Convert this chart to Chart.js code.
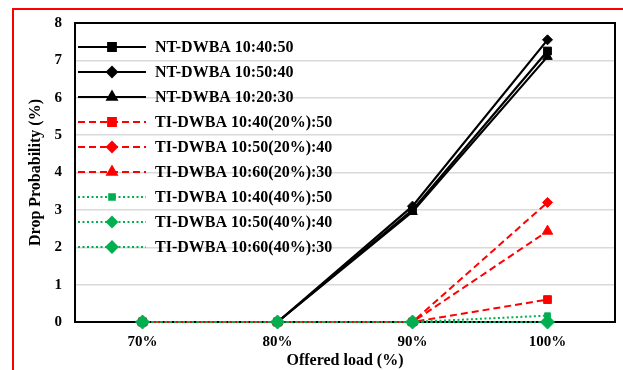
<!DOCTYPE html>
<html>
<head>
<meta charset="utf-8">
<script src="https://cdn.jsdelivr.net/npm/chart.js@4/dist/chart.umd.min.js"></script>
<style>
  html, body { margin: 0; padding: 0; background: #fff; }
  #wrap { position: relative; width: 623px; height: 370px; overflow: hidden; }
  #frame { position: absolute; left: 12px; top: 8px; width: 700px; height: 400px;
           border-top: 2px solid #f00; border-left: 2px solid #f00; }
  canvas { position: absolute; left: 0; top: 0; }
</style>
</head>
<body>
<div id="wrap">
  <div id="frame"></div>
  <canvas id="dropChart" width="623" height="370"></canvas>
</div>
<script>
// categories and series (drop probability, %)
const loads = ['70%', '80%', '90%', '100%'];
const yTicks = [0, 1, 2, 3, 4, 5, 6, 7, 8];

const nt405050 = [0, 0, 3.0, 7.25];
const nt504040 = [0, 0, 3.1, 7.55];
const nt203030 = [0, 0, 2.95, 7.1];
const ti20_4050 = [0, 0, 0, 0.6];
const ti20_5040 = [0, 0, 0, 3.2];
const ti20_6030 = [0, 0, 0, 2.43];
const ti40_4050 = [0, 0, 0, 0.17];
const ti40_5040 = [0, 0, 0, 0];
const ti40_6030 = [0, 0, 0, 0];

const BLACK = '#000000';
const RED = '#ff0000';
const GREEN = '#00b050';
const serif = '"Liberation Serif", "Times New Roman", serif';

function series(label, data, color, style, radius, dash, i) {
    return {
        label: label,
        data: data,
        borderColor: color,
        backgroundColor: color,
        pointBackgroundColor: color,
        pointBorderColor: color,
        pointStyle: style,
        pointRadius: radius,
        pointBorderWidth: 1,
        borderWidth: color === BLACK ? 2.2 : 2,
        borderDash: dash,
        tension: 0,
        clip: false,
        order: 20 - i
    };
}

const datasets = [
    series('NT-DWBA 10:40:50', nt405050, BLACK, 'rect', 5.5, [], 0),
    series('NT-DWBA 10:50:40', nt504040, BLACK, 'rectRot', 5, [], 1),
    series('NT-DWBA 10:20:30', nt203030, BLACK, 'triangle', 5.5, [], 2),
    series('TI-DWBA 10:40(20%):50', ti20_4050, RED, 'rect', 5.5, [7, 4], 3),
    series('TI-DWBA 10:50(20%):40', ti20_5040, RED, 'rectRot', 5, [7, 4], 4),
    series('TI-DWBA 10:60(20%):30', ti20_6030, RED, 'triangle', 6, [7, 4], 5),
    series('TI-DWBA 10:40(40%):50', ti40_4050, GREEN, 'rect', 4, [2, 2.5], 6),
    series('TI-DWBA 10:50(40%):40', ti40_5040, GREEN, 'rectRot', 5, [2, 2.5], 7),
    series('TI-DWBA 10:60(40%):30', ti40_6030, GREEN, 'rectRot', 7, [2, 2.5], 8)
];

// plot frame under the lines
const framePlugin = {
    id: 'frame',
    beforeDatasetsDraw(chart) {
        const a = chart.chartArea;
        const c = chart.ctx;
        c.save();
        c.strokeStyle = BLACK;
        c.lineWidth = 2;
        c.strokeRect(a.left, a.top, a.right - a.left, a.bottom - a.top);
        c.restore();
    }
};

// legend drawn inside the plot: line sample with marker, then text
const legendPlugin = {
    id: 'innerLegend',
    afterDatasetsDraw(chart) {
        const c = chart.ctx;
        c.save();
        c.font = 'bold 16px ' + serif;
        c.textBaseline = 'middle';
        chart.data.datasets.forEach((ds, i) => {
            const y = 47 + i * 25;
            c.strokeStyle = ds.borderColor;
            c.lineWidth = 2;
            c.setLineDash(ds.borderDash);
            c.beginPath();
            c.moveTo(78, y);
            c.lineTo(146, y);
            c.stroke();
            c.setLineDash([]);
            Chart.helpers.drawPoint(c, {
                pointStyle: ds.pointStyle,
                radius: Math.min(ds.pointRadius, 5.5),
                rotation: 0,
                borderWidth: 1
            }, 112, y);
            c.fillStyle = ds.borderColor;
            c.fill();
            c.fillStyle = BLACK;
            c.fillText(ds.label, 155, y + 1);
        });
        c.restore();
    }
};

new Chart(document.getElementById('dropChart').getContext('2d'), {
    type: 'line',
    data: { labels: loads, datasets: datasets },
    options: {
        responsive: false,
        animation: false,
        layout: { padding: { left: 0, right: 7, top: 23, bottom: 0 } },
        plugins: { legend: { display: false }, tooltip: { enabled: false } },
        scales: {
            x: {
                offset: true,
                grid: { display: false, drawTicks: false },
                border: { display: false },
                ticks: { color: BLACK, font: { family: serif, size: 15, weight: 'bold' }, padding: 11 },
                title: { display: true, text: 'Offered load (%)', color: BLACK,
                         font: { family: serif, size: 16, weight: 'bold' }, padding: 0 },
                afterFit(s) { s.height = 48; }
            },
            y: {
                min: yTicks[0],
                max: yTicks[yTicks.length - 1],
                afterBuildTicks(s) { s.ticks = yTicks.map(v => ({ value: v })); },
                grid: { color: '#d9d9d9', lineWidth: 1.5, drawTicks: false },
                border: { display: false },
                ticks: { color: BLACK, font: { family: serif, size: 15, weight: 'bold' }, padding: 13 },
                title: { display: true, text: 'Drop Probability (%)', color: BLACK,
                         font: { family: serif, size: 16, weight: 'bold' }, padding: { top: 26, bottom: 0 } },
                afterFit(s) { s.width = 75; }
            }
        }
    },
    plugins: [framePlugin, legendPlugin]
});
</script>
</body>
</html>
